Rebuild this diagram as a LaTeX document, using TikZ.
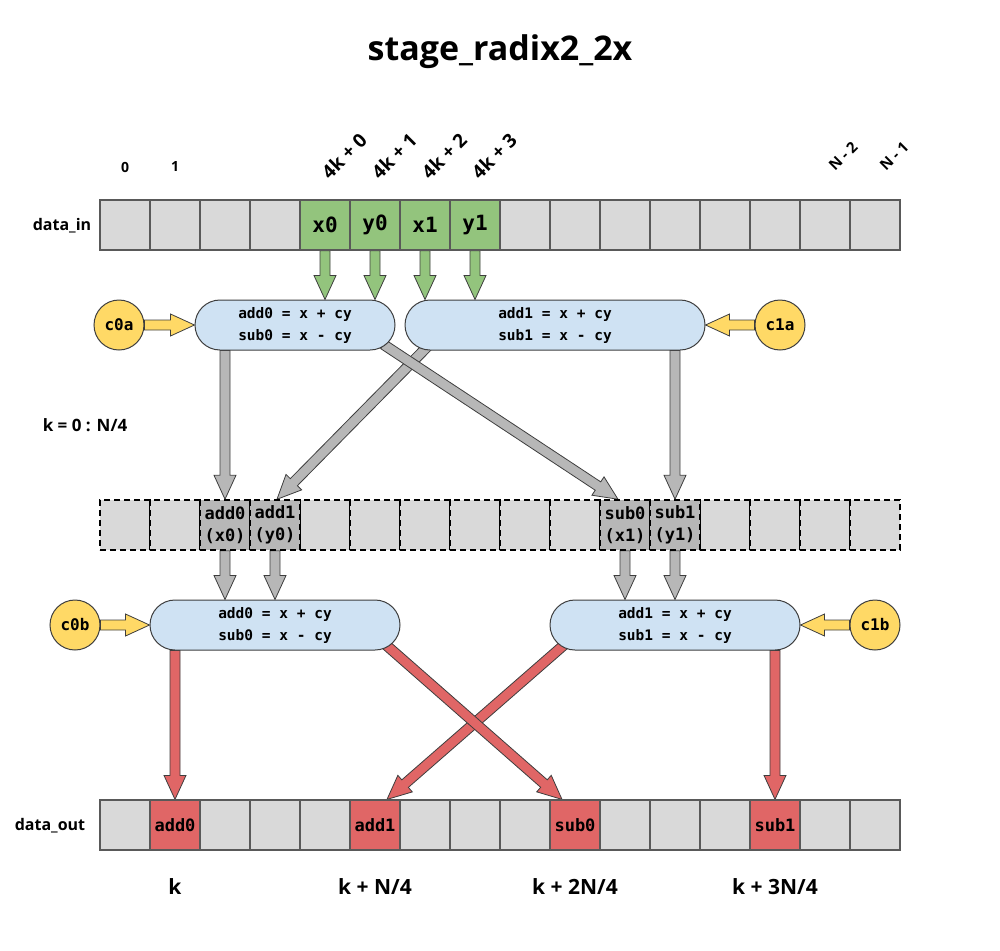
\documentclass[tikz,border=0pt]{standalone}
\usepackage{fontspec}
\setmainfont{Open Sans}
\newfontfamily\codefont{DejaVu Sans Mono}
\usetikzlibrary{calc,positioning}

\definecolor{cellgray}{HTML}{D9D9D9}
\definecolor{midgray}{HTML}{B7B7B7}
\definecolor{ingreen}{HTML}{93C47D}
\definecolor{outred}{HTML}{E06666}
\definecolor{bflyblue}{HTML}{CFE2F3}
\definecolor{coefyellow}{HTML}{FFD966}
\definecolor{edgegray}{HTML}{595959}

\pgfdeclarelayer{background}
\pgfsetlayers{background,main}

% block arrow from #2 to #3
\newcommand\fatarrow[3][]{%
  \coordinate (neck) at ($(#3)!24pt!(#2)$);
  \draw[#1] ($(#2)!5pt!90:(#3)$) -- ($(neck)!5pt!90:(#3)$)
    -- ($(neck)!11pt!90:(#3)$) -- (#3) -- ($(neck)!11pt!-90:(#3)$)
    -- ($(neck)!5pt!-90:(#3)$) -- ($(#2)!5pt!-90:(#3)$) -- cycle;
}

\begin{document}
\begin{tikzpicture}[
    x=1pt, y=-1pt,
    cell/.style={draw=edgegray, line width=1.2pt, fill=cellgray,
        minimum size=50pt, inner sep=0pt, align=center,
        font=\codefont\bfseries\fontsize{21}{24}\selectfont},
    midcell/.style={cell, draw=black, dash pattern=on 6pt off 4pt,
        line width=1.5pt, font=\codefont\bfseries\fontsize{17}{22}\selectfont},
    outcell/.style={cell, font=\codefont\bfseries\fontsize{17}{22}\selectfont},
    bfly/.style={draw=edgegray!70!black, line width=1pt, fill=bflyblue,
        rounded corners=25pt, minimum height=50pt, align=center,
        font=\codefont\bfseries\fontsize{14.5}{22}\selectfont},
    coef/.style={circle, draw=edgegray!70!black, line width=1pt,
        fill=coefyellow, minimum size=50pt, inner sep=0pt,
        font=\codefont\bfseries\fontsize{16}{18}\selectfont},
    rowlabel/.style={font=\bfseries\fontsize{16}{18}\selectfont},
    idx/.style={font=\bfseries\fontsize{14}{16}\selectfont},
    idxrot/.style={rotate=45, font=\bfseries\fontsize{19}{22}\selectfont},
    poslabel/.style={font=\bfseries\fontsize{21}{24}\selectfont},
    greenarrow/.style={draw=edgegray!70!black, line width=0.8pt, fill=ingreen},
    grayarrow/.style={draw=edgegray!70!black, line width=0.8pt, fill=midgray},
    redarrow/.style={draw=edgegray!70!black, line width=0.8pt, fill=outred},
    coefarrow/.style={draw=edgegray!70!black, line width=0.8pt, fill=coefyellow}
    ]
    \useasboundingbox (0,0) rectangle (1000,950);
    % title
    \node (title) at (500,52) {\fontsize{34}{40}\selectfont\bfseries stage\_radix2\_2x};
    % input row
    \node[rowlabel] (lin) at (62,226) {data\_in};
    \foreach \i in {0,1,2,3,8,9,...,15}
        \node[cell] (in\i) at (125+50*\i,225) {};
    \foreach \i/\t in {4/x0,5/y0,6/x1,7/y1}
        \node[cell, fill=ingreen] (in\i) at (125+50*\i,225) {\t};
    % indices
    \node[idx] (i0) at (125,167) {0};
    \node[idx] (i1) at (175,167) {1};
    \foreach \i in {0,...,3}
        \node[idxrot] (k\i) at (344+50*\i,156) {4k + \i};
    \node[idxrot, font=\bfseries\fontsize{15}{16}\selectfont] (n2) at (843,156) {N - 2};
    \node[idxrot, font=\bfseries\fontsize{15}{16}\selectfont] (n1) at (894,156) {N - 1};
    % first butterflies
    \node[bfly, minimum width=200pt] (bfa) at (295,325) {add0 = x + cy\\sub0 = x - cy};
    \node[bfly, minimum width=300pt] (bfb) at (555,325) {add1 = x + cy\\sub1 = x - cy};
    \node[coef] (c0a) at (119,325) {c0a};
    \node[coef] (c1a) at (780,325) {c1a};
    \node[rowlabel, font=\bfseries\fontsize{17}{18}\selectfont] (loop) at (85,425) {k = 0 : N/4};
    % middle row
    \foreach \i in {0,1,4,5,...,9,12,13,14,15}
        \node[midcell] (mid\i) at (125+50*\i,525) {};
    \foreach \i/\a/\b in {2/add0/x0,3/add1/y0,10/sub0/x1,11/sub1/y1}
        \node[midcell, fill=midgray] (mid\i) at (125+50*\i,525) {\a\\(\b)};
    % second butterflies
    \node[bfly, minimum width=250pt] (bfc) at (275,625) {add0 = x + cy\\sub0 = x - cy};
    \node[bfly, minimum width=250pt] (bfd) at (675,625) {add1 = x + cy\\sub1 = x - cy};
    \node[coef] (c0b) at (75,625) {c0b};
    \node[coef] (c1b) at (875,625) {c1b};
    % output row
    \node[rowlabel] (lout) at (50,826) {data\_out};
    \foreach \i in {0,2,3,4,6,7,8,10,11,12,14,15}
        \node[outcell] (out\i) at (125+50*\i,825) {};
    \foreach \i/\t in {1/add0,5/add1,9/sub0,13/sub1}
        \node[outcell, fill=outred] (out\i) at (125+50*\i,825) {\t};
    \foreach \i/\t in {1/k,5/{k + N/4},9/{k + 2N/4},13/{k + 3N/4}}
        \node[poslabel] (pos\i) at (125+50*\i,887) {\t};
    % arrows
    \begin{pgfonlayer}{background}
        \foreach \i in {4,...,7} {
            \coordinate (gs\i) at (in\i.south);
            \coordinate (ge\i) at (in\i.south |- bfa.north);
            \fatarrow[greenarrow]{gs\i}{ge\i}
        }
        \fatarrow[coefarrow]{c0a.east}{bfa.west}
        \fatarrow[coefarrow]{c1a.west}{bfb.east}
        \fatarrow[coefarrow]{c0b.east}{bfc.west}
        \fatarrow[coefarrow]{c1b.west}{bfd.east}
        % first stage to middle row
        \coordinate (ga0) at (bfa.south -| mid2);
        \coordinate (ga1) at ([xshift=25pt,yshift=6pt]bfb.south west);
        \coordinate (ga2) at ([xshift=-12pt,yshift=6pt]bfa.south east);
        \coordinate (ga3) at (bfb.south -| mid11);
        \coordinate (gb1) at ([xshift=2pt]mid3.north);
        \coordinate (gb2) at ([xshift=-7pt]mid10.north);
        \fatarrow[grayarrow]{ga0}{mid2.north}
        \fatarrow[grayarrow]{ga1}{gb1}
        \fatarrow[grayarrow]{ga2}{gb2}
        \fatarrow[grayarrow]{ga3}{mid11.north}
        % middle row to second stage
        \foreach \i in {2,3} {
            \coordinate (ms\i) at (mid\i.south);
            \coordinate (me\i) at (mid\i.south |- bfc.north);
            \fatarrow[grayarrow]{ms\i}{me\i}
        }
        \foreach \i in {10,11} {
            \coordinate (ms\i) at (mid\i.south);
            \coordinate (me\i) at (mid\i.south |- bfd.north);
            \fatarrow[grayarrow]{ms\i}{me\i}
        }
        % second stage to output row
        \coordinate (ra0) at (bfc.south -| out1);
        \coordinate (ra1) at ([xshift=15pt,yshift=6pt]bfd.south west);
        \coordinate (ra2) at ([xshift=-15pt,yshift=6pt]bfc.south east);
        \coordinate (ra3) at (bfd.south -| out13);
        \coordinate (rb1) at ([xshift=12pt]out5.north);
        \coordinate (rb2) at ([xshift=-13pt]out9.north);
        \fatarrow[redarrow]{ra0}{out1.north}
        \fatarrow[redarrow]{ra1}{rb1}
        \fatarrow[redarrow]{ra2}{rb2}
        \fatarrow[redarrow]{ra3}{out13.north}
    \end{pgfonlayer}
\end{tikzpicture}
\end{document}
